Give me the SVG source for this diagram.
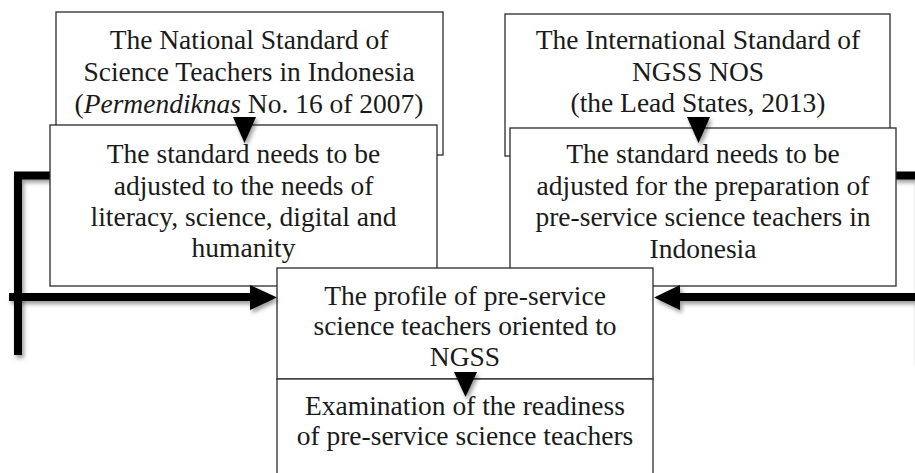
<svg xmlns="http://www.w3.org/2000/svg" width="915" height="473" viewBox="0 0 915 473">
<defs>
<filter id="sh" x="-20%" y="-20%" width="140%" height="160%">
<feDropShadow dx="2" dy="3" stdDeviation="2" flood-color="#000" flood-opacity="0.4"/>
</filter>
</defs>
<style>
.box{fill:#fff;stroke:#2a2a2a;stroke-width:1.3}
.thick{fill:none;stroke:#000;stroke-width:8}
.head{fill:#000}
</style>
<rect width="915" height="473" fill="#fff"/>
<g id="connectors-back" filter="url(#sh)">
<path class="thick" d="M18 355 V175.5 H52"/>
<path class="thick" d="M894 175.5 H923"/>
<path class="thick" d="M919 175 V362"/>
</g>
<g font-family="'Liberation Serif', 'Times New Roman', 'DejaVu Serif', serif" font-size="27.5" fill="#1a1a1a" text-anchor="middle">
<g id="node-national">
<rect class="box" x="56" y="12" width="387" height="143"/>
<text x="249" y="49">The National Standard of</text>
<text x="249" y="81">Science Teachers in Indonesia</text>
<text x="249" y="113">(<tspan font-style="italic">Permendiknas</tspan> No. 16 of 2007)</text>
</g>
<g id="node-adjust-national">
<rect class="box" x="50" y="125" width="387" height="161"/>
<text x="243.5" y="163">The standard needs to be</text>
<text x="243.5" y="195">adjusted to the needs of</text>
<text x="243.5" y="226">literacy, science, digital and</text>
<text x="243.5" y="257">humanity</text>
</g>
<g id="node-international">
<rect class="box" x="505" y="14" width="385" height="142"/>
<text x="698" y="49">The International Standard of</text>
<text x="698" y="81">NGSS NOS</text>
<text x="698" y="112">(the Lead States, 2013)</text>
</g>
<g id="node-adjust-international">
<rect class="box" x="510" y="128" width="386" height="158"/>
<text x="703" y="163">The standard needs to be</text>
<text x="703" y="195">adjusted for the preparation of</text>
<text x="703" y="226">pre-service science teachers in</text>
<text x="703" y="258">Indonesia</text>
</g>
<g id="node-profile">
<rect class="box" x="277" y="268" width="376" height="111"/>
<text x="465" y="305">The profile of pre-service</text>
<text x="465" y="335">science teachers oriented to</text>
<text x="465" y="366">NGSS</text>
</g>
<g id="node-examination">
<rect class="box" x="277" y="379" width="376" height="110"/>
<text x="465" y="415">Examination of the readiness</text>
<text x="465" y="445">of pre-service science teachers</text>
</g>
</g>
<g id="connectors" filter="url(#sh)">
<path class="head" d="M233 117 H256 L244.5 143 Z"/>
<path class="head" d="M687 117 H710 L698.5 143 Z"/>
<path class="head" d="M454 372 H477 L465.5 397 Z"/>
<path class="thick" d="M9 297 H252"/>
<path class="head" d="M250 285 L277 297.5 L250 310 Z"/>
<path class="thick" d="M923 297 H678"/>
<path class="head" d="M680 285 L654 297.5 L680 310 Z"/>
</g>
</svg>
